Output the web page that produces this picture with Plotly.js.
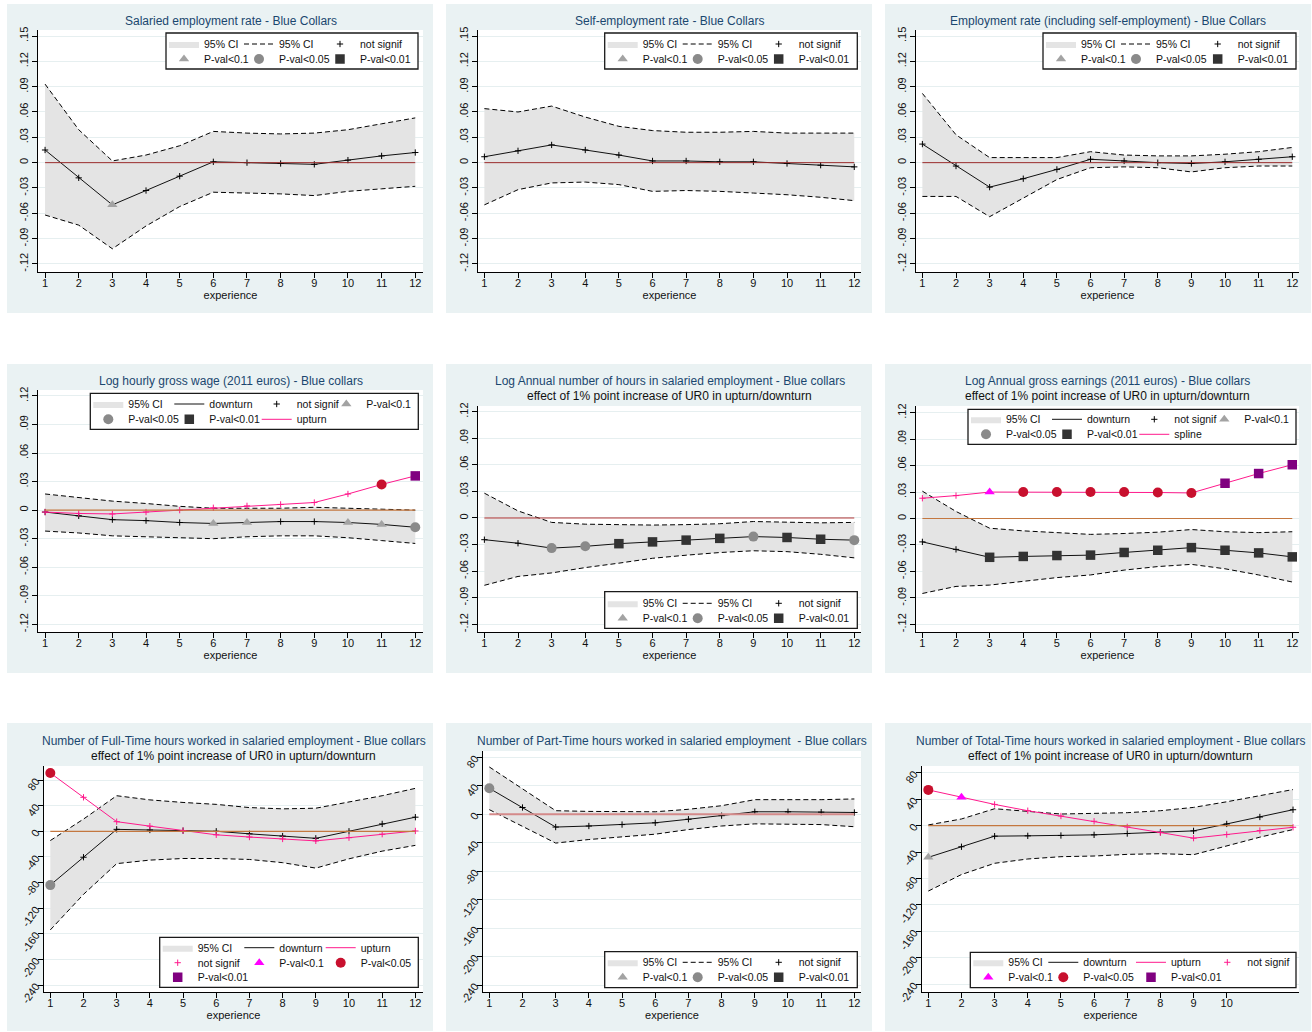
<!DOCTYPE html>
<html><head><meta charset="utf-8">
<script src="https://cdn.plot.ly/plotly-3.0.1.min.js"></script>
<style>html,body{margin:0;padding:0;background:#fff}#chart{width:1312px;height:1032px}</style>
</head><body><div id="chart"></div>
<script>
// ---------------- DATA ----------------
const experience = [1,2,3,4,5,6,7,8,9,10,11,12];
const xTicksShort = [1,2,3,4,5,6,7,8,9,10];

const yTicksRate = [-0.12,-0.09,-0.06,-0.03,0,0.03,0.06,0.09,0.12,0.15];
const yLabelsRate = ['-.12','-.09','-.06','-.03','0','.03','.06','.09','.12','.15'];
const yTicksLog = [-0.12,-0.09,-0.06,-0.03,0,0.03,0.06,0.09,0.12];
const yLabelsLog = ['-.12','-.09','-.06','-.03','0','.03','.06','.09','.12'];
const yTicksHours = [-240,-200,-160,-120,-80,-40,0,40,80];
const yLabelsHours = ['-240','-200','-160','-120','-80','-40','0','40','80'];

// sig codes: n = not signif, t = P-val<0.1, c = P-val<0.05, s = P-val<0.01
// Panel 1: Salaried employment rate
const p1Est = [0.015,-0.018,-0.050,-0.033,-0.016,0.001,0.000,-0.001,-0.002,0.003,0.008,0.012];
const p1Hi  = [0.093,0.039,0.002,0.009,0.020,0.037,0.035,0.034,0.035,0.039,0.046,0.053];
const p1Lo  = [-0.062,-0.074,-0.102,-0.075,-0.052,-0.035,-0.036,-0.037,-0.039,-0.034,-0.031,-0.028];
const p1Sig = ['n','n','t','n','n','n','n','n','n','n','n','n'];
// Panel 2: Self-employment rate
const p2Est = [0.007,0.014,0.021,0.015,0.009,0.002,0.002,0.001,0.001,-0.001,-0.003,-0.005];
const p2Hi  = [0.064,0.060,0.067,0.054,0.043,0.038,0.036,0.036,0.037,0.035,0.035,0.035];
const p2Lo  = [-0.050,-0.032,-0.024,-0.023,-0.026,-0.034,-0.033,-0.034,-0.036,-0.038,-0.041,-0.045];
const p2Sig = ['n','n','n','n','n','n','n','n','n','n','n','n'];
// Panel 3: Employment rate (incl. self-employment)
const p3Est = [0.022,-0.004,-0.029,-0.019,-0.008,0.004,0.002,0.000,-0.001,0.001,0.004,0.007];
const p3Hi  = [0.082,0.033,0.006,0.006,0.006,0.013,0.009,0.008,0.008,0.010,0.013,0.018];
const p3Lo  = [-0.040,-0.040,-0.064,-0.042,-0.020,-0.006,-0.005,-0.006,-0.011,-0.006,-0.004,-0.004];
const p3Sig = ['n','n','n','n','n','n','n','n','n','n','n','n'];
// Panel 4: Log hourly gross wage
const p4Down = [-0.002,-0.006,-0.010,-0.011,-0.013,-0.014,-0.013,-0.012,-0.012,-0.013,-0.015,-0.018];
const p4DownSig = ['n','n','n','n','n','t','t','n','n','t','t','c'];
const p4Hi  = [0.017,0.013,0.0095,0.007,0.004,0.002,0.002,0.002,0.003,0.002,0.001,0.000];
const p4Lo  = [-0.022,-0.024,-0.027,-0.028,-0.029,-0.030,-0.028,-0.027,-0.027,-0.029,-0.032,-0.035];
const p4Up  = [-0.002,-0.0035,-0.004,-0.002,0.000,0.0025,0.0045,0.006,0.008,0.017,0.027,0.036];
const p4UpSig = ['n','n','n','n','n','n','n','n','n','n','c','s'];
// Panel 5: Log annual hours
const p5Est = [-0.0245,-0.0285,-0.034,-0.032,-0.029,-0.027,-0.025,-0.023,-0.021,-0.022,-0.024,-0.025];
const p5Sig = ['n','n','c','c','s','s','s','s','c','s','s','c'];
const p5Hi  = [0.028,0.008,-0.005,-0.007,-0.0075,-0.008,-0.0075,-0.0065,-0.004,-0.005,-0.0055,-0.005];
const p5Lo  = [-0.076,-0.066,-0.062,-0.056,-0.051,-0.0455,-0.042,-0.039,-0.037,-0.038,-0.041,-0.045];
// Panel 6: Log annual gross earnings
const p6Down = [-0.0265,-0.035,-0.044,-0.043,-0.042,-0.0415,-0.0385,-0.036,-0.033,-0.036,-0.039,-0.0435];
const p6DownSig = ['n','n','s','s','s','s','s','s','s','s','s','s'];
const p6Hi  = [0.031,0.008,-0.011,-0.014,-0.016,-0.018,-0.017,-0.0155,-0.0125,-0.015,-0.016,-0.015];
const p6Lo  = [-0.085,-0.077,-0.0755,-0.071,-0.067,-0.064,-0.0585,-0.0545,-0.052,-0.057,-0.064,-0.072];
const p6Up  = [0.023,0.026,0.030,0.030,0.030,0.030,0.030,0.0295,0.029,0.040,0.051,0.061];
const p6UpSig = ['n','n','t','c','c','c','c','c','c','s','s','s'];
// Panel 7: Full-time hours
const p7Down = [-84,-40.5,3,2,1,0,-4,-7.5,-11,0,11.5,22];
const p7DownSig = ['c','n','n','n','n','n','n','n','n','n','n','n'];
const p7Hi  = [-14.5,19,55.5,49,45,42,37,35,36,45.5,55.5,67];
const p7Lo  = [-154,-98.5,-50.5,-45,-42.5,-42.5,-44,-49,-57.5,-43,-31,-22];
const p7Up  = [91,53,15,8,1,-5.5,-9,-12,-15,-10,-4.5,0.5];
const p7UpSig = ['c','n','n','n','n','n','n','n','n','n','n','n'];
// Panel 8: Part-time hours
const p8Est = [36.5,9.5,-18,-16.5,-14.5,-12,-7,-2,3.5,3.5,3,2.5];
const p8Sig = ['c','n','n','n','n','n','n','n','n','n','n','n'];
const p8Hi  = [66.5,36,5,4,3.5,3.5,7,12,20.5,20,20.5,21.5];
const p8Lo  = [6.5,-17,-40.5,-35.5,-32,-28,-21.5,-16.5,-13.5,-13.5,-14.5,-17.5];
// Panel 9: Total-time hours
const p9Down = [-48,-32,-16,-15.5,-15,-14,-12,-10,-8,2.5,13,24];
const p9DownSig = ['t','n','n','n','n','n','n','n','n','n','n','n'];
const p9Hi  = [1,10,25.5,21.5,17.5,18.5,19.5,22.5,27.5,36,45,54.5];
const p9Lo  = [-99,-74,-57,-50.5,-47,-46,-43.5,-42.5,-44,-31,-17.5,-6];
const p9Up  = [54,43,32,22.5,14.5,6.5,-2,-10.5,-19,-13.5,-7.5,-2.5];
const p9UpSig = ['c','t','n','n','n','n','n','n','n','n','n','n'];

const subTitle = 'effect of 1% point increase of UR0 in upturn/downturn';

// ---------------- STYLE / LAYOUT ----------------
const W = 1312, H = 1032;
const FONT = '"Liberation Sans", Arial, Helvetica, sans-serif';
const PANEL_BG = '#eaf2f3';
const CI_FILL = '#e4e4e4';
const DASH = '5px,3px';
const palDown = {line:'#111111', n:'#000000', t:'#a3a3a3', c:'#8a8a8a', s:'#333333'};
const palUp   = {line:'#ff1a8c', n:'#ff1a8c', t:'#ff00ff', c:'#c8102e', s:'#800080'};

function markerStyle(pal, k) {
  if (k === 'n') return {symbol:'cross-thin', size:4.5, color:pal.n, line:{color:pal.n, width:1}};
  if (k === 't') return {symbol:'triangle-up', size:9, color:pal.t, line:{width:0}};
  if (k === 'c') return {symbol:'circle', size:10, color:pal.c, line:{width:0}};
  return {symbol:'square', size:9.5, color:pal.s, line:{width:0}};
}

const stdLegend = [
  [['fill','95% CI'],['dash','95% CI'],['dn','not signif']],
  [['dt','P-val<0.1'],['dc','P-val<0.05'],['ds','P-val<0.01']]
];

const panels = [
  {title:'Salaried employment rate - Blue Collars', sub:null, box:[7,4,433,313], plot:[38,30,423,272],
   yr:[-0.1295,0.1571], yt:yTicksRate, yl:yLabelsRate, ang:-90, xt:experience, xr:[0.79,12.23], ty:20.7,
   hi:p1Hi, lo:p1Lo, down:{est:p1Est, sig:p1Sig}, up:null, zero:{color:'#9a2c2c', width:1},
   lg:{box:[174,33,418,69], cols:[198,279,360], rows:[44,59], entries:stdLegend}},
  {title:'Self-employment rate - Blue Collars', sub:null, box:[446,4,872,313], plot:[478,30,861,272],
   yr:[-0.1295,0.1571], yt:yTicksRate, yl:yLabelsRate, ang:-90, xt:experience, xr:[0.81,12.2], ty:20.7,
   hi:p2Hi, lo:p2Lo, down:{est:p2Est, sig:p2Sig}, up:null, zero:{color:'#9a2c2c', width:1},
   lg:{box:[612.7,33,857.3,69], cols:[636.7,717.7,798.7], rows:[44,59], entries:stdLegend}},
  {title:'Employment rate (including self-employment) - Blue Collars', sub:null, box:[885,4,1311,313], plot:[916,30,1299,272],
   yr:[-0.1295,0.1571], yt:yTicksRate, yl:yLabelsRate, ang:-90, xt:experience, xr:[0.81,12.2], ty:20.7,
   hi:p3Hi, lo:p3Lo, down:{est:p3Est, sig:p3Sig}, up:null, zero:{color:'#9a2c2c', width:1},
   lg:{box:[1051.7,33,1296,69], cols:[1075,1156,1237.7], rows:[44,59], entries:stdLegend}},
  {title:'Log hourly gross wage (2011 euros) - Blue collars', sub:null, box:[7,364,433,673], plot:[38,390,423,632],
   yr:[-0.1281,0.1263], yt:yTicksLog, yl:yLabelsLog, ang:-90, xt:experience, xr:[0.79,12.23], ty:380.7,
   hi:p4Hi, lo:p4Lo, down:{est:p4Down, sig:p4DownSig}, up:{est:p4Up, sig:p4UpSig}, zero:{color:'#c4773f', width:1.2},
   lg:{box:[98.7,393.3,418.3,429.3], cols:[122.3,209.3,296.7,366.3], rows:[404,419.3],
       entries:[[['fill','95% CI'],['down','downturn'],['dn','not signif'],['dt','P-val<0.1']],
                [['dc','P-val<0.05'],['ds','P-val<0.01'],['up','upturn']]]}},
  {title:'Log Annual number of hours in salaried employment - Blue collars', sub:subTitle, box:[446,364,872,673], plot:[478,406,861,632],
   yr:[-0.1287,0.1264], yt:yTicksLog, yl:yLabelsLog, ang:-90, xt:experience, xr:[0.81,12.2], ty:380.7,
   hi:p5Hi, lo:p5Lo, down:{est:p5Est, sig:p5Sig}, up:null, zero:{color:'#b03535', width:1},
   lg:{box:[612.7,591.7,857.3,628.3], cols:[636.7,717.7,798.7], rows:[603.3,618.3], entries:stdLegend}},
  {title:'Log Annual gross earnings (2011 euros) - Blue collars', sub:subTitle, box:[885,364,1311,673], plot:[916,406,1299,632],
   yr:[-0.1287,0.1276], yt:yTicksLog, yl:yLabelsLog, ang:-90, xt:experience, xr:[0.81,12.2], ty:380.7,
   hi:p6Hi, lo:p6Lo, down:{est:p6Down, sig:p6DownSig}, up:{est:p6Up, sig:p6UpSig}, zero:{color:'#c4773f', width:1.2},
   lg:{box:[976.7,409.3,1296,444.3], cols:[1000,1087,1174.3,1244.3], rows:[419.3,434.3],
       entries:[[['fill','95% CI'],['down','downturn'],['dn','not signif'],['dt','P-val<0.1']],
                [['dc','P-val<0.05'],['ds','P-val<0.01'],['up','spline']]]}},
  {title:'Number of Full-Time hours worked in salaried employment - Blue collars', sub:subTitle, box:[7,723,433,1031], plot:[44,766,423,992],
   yr:[-250.9,101.9], yt:yTicksHours, yl:yLabelsHours, ang:-55, xt:experience, xr:[0.81,12.23], ty:740.7,
   hi:p7Hi, lo:p7Lo, down:{est:p7Down, sig:p7DownSig}, up:{est:p7Up, sig:p7UpSig}, zero:{color:'#c4773f', width:1.2},
   lg:{box:[168.3,937.3,418.3,987.3], cols:[191.7,279.3,360.7], rows:[947.7,962.7,977.3],
       entries:[[['fill','95% CI'],['down','downturn'],['up','upturn']],
                [['un','not signif'],['ut','P-val<0.1'],['uc','P-val<0.05']],
                [['us','P-val<0.01']]]}},
  {title:'Number of Part-Time hours worked in salaried employment  - Blue collars', sub:null, box:[446,723,872,1031], plot:[483,751,861,992],
   yr:[-249.8,88.9], yt:yTicksHours, yl:yLabelsHours, ang:-55, xt:experience, xr:[0.81,12.2], ty:740.7,
   hi:p8Hi, lo:p8Lo, down:{est:p8Est, sig:p8Sig}, up:null, zero:{color:'#d48a8a', width:2},
   lg:{box:[612.7,951.7,857.3,987.7], cols:[636.7,717.7,798.7], rows:[962.3,977.3], entries:stdLegend}},
  {title:'Number of Total-Time hours worked in salaried employment - Blue collars', sub:subTitle, box:[885,723,1311,1031], plot:[922,766,1299,992],
   yr:[-251.6,90.1], yt:yTicksHours, yl:yLabelsHours, ang:-55, xt:xTicksShort, xr:[0.81,12.18], ty:740.7,
   hi:p9Hi, lo:p9Lo, down:{est:p9Down, sig:p9DownSig}, up:{est:p9Up, sig:p9UpSig}, zero:{color:'#c4773f', width:1.2},
   lg:{box:[979,952.3,1296,987.7], cols:[1002.3,1083.3,1171,1247.3], rows:[962.3,977.3],
       entries:[[['fill','95% CI'],['down','downturn'],['up','upturn'],['un','not signif']],
                [['ut','P-val<0.1'],['uc','P-val<0.05'],['us','P-val<0.01']]]}}
];

// ---------------- BUILD ----------------
const traces = [];
const layout = {
  width:W, height:H, autosize:false, margin:{l:0,r:0,t:0,b:0},
  paper_bgcolor:'#ffffff', plot_bgcolor:'#ffffff', showlegend:true,
  font:{family:FONT, color:'#111'}, shapes:[], annotations:[], hovermode:false
};

function sfx(i){ return i === 0 ? '' : String(i + 1); }

function addSeries(xa, ya, s, pal) {
  traces.push({type:'scatter', mode:'lines', x:experience, y:s.est, xaxis:xa, yaxis:ya,
    line:{color:pal.line, width:1}, showlegend:false, hoverinfo:'skip'});
  ['n','t','c','s'].forEach(k => {
    const idx = s.sig.map((v, j) => v === k ? j : -1).filter(j => j >= 0);
    if (!idx.length) return;
    traces.push({type:'scatter', mode:'markers', x:idx.map(j => experience[j]), y:idx.map(j => s.est[j]),
      xaxis:xa, yaxis:ya, marker:markerStyle(pal, k), showlegend:false, hoverinfo:'skip'});
  });
}

function legendTrace(kind, name, xa, ya, lgId, lw) {
  const t = {type:'scatter', x:[null], y:[null], xaxis:xa, yaxis:ya, name:name, legend:lgId,
             showlegend:true, hoverinfo:'skip'};
  if (lw) t.legendwidth = lw;
  if (kind === 'fill') { t.mode = 'lines'; t.fill = 'toself'; t.fillcolor = CI_FILL; t.line = {width:0, color:CI_FILL}; }
  else if (kind === 'dash') { t.mode = 'lines'; t.line = {color:'#000', width:1, dash:DASH}; }
  else if (kind === 'down') { t.mode = 'lines'; t.line = {color:palDown.line, width:1}; }
  else if (kind === 'up') { t.mode = 'lines'; t.line = {color:palUp.line, width:1}; }
  else {
    const pal = kind[0] === 'd' ? palDown : palUp;
    t.mode = 'markers'; t.marker = markerStyle(pal, kind[1]);
  }
  return t;
}

const FIRST_COL_SHIFT = 6;   // keeps the 30px legend key inside the box
let legendCount = 0;
panels.forEach((p, i) => {
  const s = sfx(i), xa = 'x' + s, ya = 'y' + s;
  const [L, T, R, B] = p.plot;
  layout['xaxis' + s] = {
    domain:[L / W, R / W], anchor:ya, range:p.xr, tickvals:p.xt, ticktext:p.xt.map(String),
    showline:true, linecolor:'#000', linewidth:1, ticks:'outside', ticklen:5, tickwidth:1, tickcolor:'#000',
    ticklabelstandoff:-4,
    showgrid:false, zeroline:false, tickfont:{family:FONT, size:11, color:'#111'},
    title:{text:'experience', font:{family:FONT, size:11, color:'#111'}, standoff:0}, fixedrange:true
  };
  layout['yaxis' + s] = {
    domain:[1 - B / H, 1 - T / H], anchor:xa, range:p.yr, tickvals:p.yt, ticktext:p.yl, tickangle:p.ang,
    showline:true, linecolor:'#000', linewidth:1, ticks:'outside', ticklen:5, tickwidth:1, tickcolor:'#000',
    showgrid:true, gridcolor:'#e6eff0', gridwidth:1, zeroline:false,
    tickfont:{family:FONT, size:11, color:'#111'}, fixedrange:true
  };
  // panel background and white plot region
  layout.shapes.push({type:'rect', xref:'paper', yref:'paper', x0:p.box[0] / W, x1:p.box[2] / W,
    y0:1 - p.box[3] / H, y1:1 - p.box[1] / H, fillcolor:PANEL_BG, line:{width:0}, layer:'below'});
  layout.shapes.push({type:'rect', xref:xa + ' domain', yref:ya + ' domain', x0:0, x1:1, y0:0, y1:1,
    fillcolor:'#ffffff', line:{width:0}, layer:'below'});
  // zero reference line
  layout.shapes.push({type:'line', xref:xa, yref:ya, x0:experience[0], x1:experience[experience.length - 1],
    y0:0, y1:0, line:{color:p.zero.color, width:p.zero.width}, layer:'above'});
  // legend box
  const col0 = p.lg.cols[0] + FIRST_COL_SHIFT;
  const boxL = Math.min(p.lg.box[0], col0 - 38);
  layout.shapes.push({type:'rect', xref:'paper', yref:'paper', x0:boxL / W, x1:p.lg.box[2] / W,
    y0:1 - p.lg.box[3] / H, y1:1 - p.lg.box[1] / H, fillcolor:'#ffffff', line:{color:'#1a1a1a', width:1.3}, layer:'above'});
  // titles
  const cx = (L + R) / 2 / W;
  layout.annotations.push({xref:'paper', yref:'paper', x:cx, y:1 - p.ty / H, xanchor:'center', yanchor:'middle',
    text:p.title, showarrow:false, font:{family:FONT, size:12, color:'#1a476f'}});
  if (p.sub) layout.annotations.push({xref:'paper', yref:'paper', x:cx, y:1 - (p.ty + 15) / H, xanchor:'center', yanchor:'middle',
    text:p.sub, showarrow:false, font:{family:FONT, size:12, color:'#111'}});

  // data: CI band
  traces.push({type:'scatter', mode:'lines', x:experience, y:p.hi, xaxis:xa, yaxis:ya,
    line:{color:'#000', width:1, dash:DASH}, showlegend:false, hoverinfo:'skip'});
  traces.push({type:'scatter', mode:'lines', x:experience, y:p.lo, xaxis:xa, yaxis:ya, fill:'tonexty', fillcolor:CI_FILL,
    line:{color:'#000', width:1, dash:DASH}, showlegend:false, hoverinfo:'skip'});
  addSeries(xa, ya, p.down, palDown);
  if (p.up) addSeries(xa, ya, p.up, palUp);

  // legends: one horizontal legend per row
  const cols = p.lg.cols.map((c, k) => k === 0 ? col0 : c);
  p.lg.entries.forEach((row, r) => {
    legendCount += 1;
    const lgId = legendCount === 1 ? 'legend' : 'legend' + legendCount;
    layout[lgId] = {x:(cols[0] - 40) / W, xanchor:'left', y:1 - p.lg.rows[r] / H, yanchor:'middle',
      orientation:'h', bgcolor:'rgba(0,0,0,0)', borderwidth:0, traceorder:'normal',
      font:{family:FONT, size:10.5, color:'#111'}, itemclick:false, itemdoubleclick:false};
    row.forEach((e, c) => {
      const lw = c < row.length - 1 ? (cols[c + 1] - cols[c] - 45) : 0;
      traces.push(legendTrace(e[0], e[1], xa, ya, lgId, lw));
    });
  });
});

Plotly.newPlot('chart', traces, layout, {staticPlot:true, displayModeBar:false});
</script>
</body></html>
